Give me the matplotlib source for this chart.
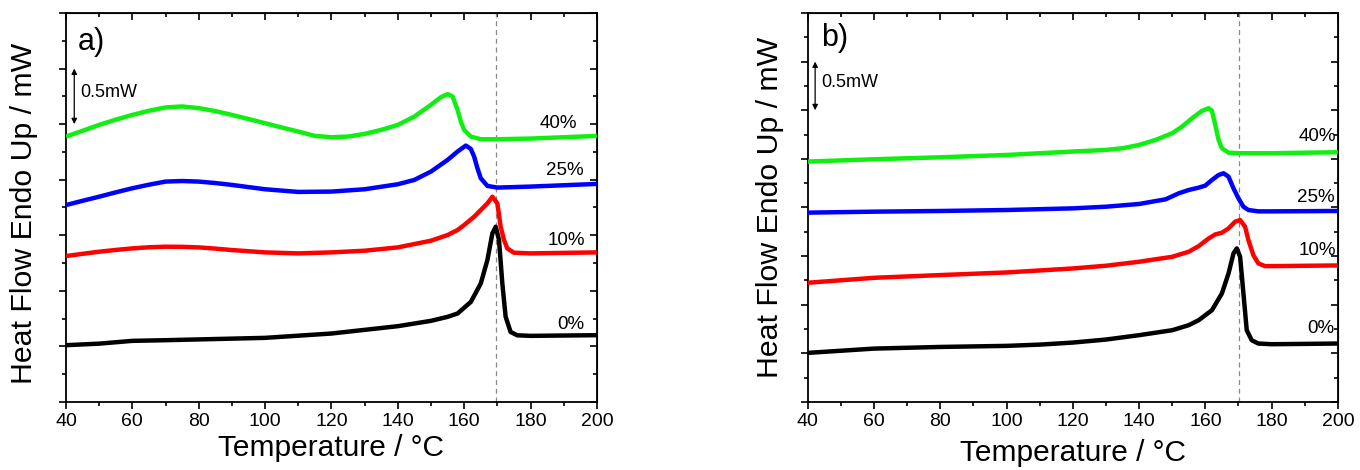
import matplotlib
matplotlib.use("Agg")
import matplotlib.pyplot as plt
from matplotlib.ticker import MultipleLocator, NullFormatter

plt.rcParams['font.family'] = ['Liberation Sans', 'DejaVu Sans']

# ---------------- Data: panel a ----------------
a_T0 = [40, 50, 60, 70, 100, 120, 140, 150, 155, 158, 162, 165, 167, 168.5, 169.5,
        170.5, 171.5, 172.5, 174, 176, 180, 200]
a_y0 = [0.511, 0.525, 0.55, 0.556, 0.577, 0.616, 0.682, 0.73, 0.766, 0.796, 0.90,
        1.066, 1.277, 1.517, 1.577, 1.457, 1.066, 0.766, 0.63, 0.60, 0.595, 0.601]

a_T10 = [40, 45, 50, 55, 60, 65, 70, 75, 80, 85, 90, 100, 110, 120, 130, 140, 150,
         155, 158, 160, 163, 165, 167, 168.5, 170, 171, 172, 173, 175, 180, 200]
a_y10 = [1.313, 1.333, 1.352, 1.368, 1.382, 1.392, 1.397, 1.396, 1.391, 1.380,
         1.367, 1.346, 1.337, 1.346, 1.361, 1.391, 1.451, 1.502, 1.547, 1.592,
         1.667, 1.727, 1.787, 1.847, 1.787, 1.577, 1.457, 1.382, 1.343, 1.337,
         1.346]

a_T25 = [40, 45, 50, 55, 60, 65, 70, 75, 80, 85, 90, 100, 110, 120, 130, 140, 145,
         150, 155, 158, 160.5, 162, 163, 164, 165, 167, 170, 180, 200]
a_y25 = [1.772, 1.810, 1.847, 1.886, 1.923, 1.955, 1.983, 1.988, 1.983, 1.970,
         1.953, 1.914, 1.890, 1.893, 1.914, 1.959, 1.998, 2.073, 2.178, 2.253,
         2.307, 2.277, 2.208, 2.103, 2.013, 1.944, 1.929, 1.938, 1.962]

a_T40 = [40, 45, 50, 55, 60, 65, 70, 75, 80, 85, 90, 95, 100, 105, 110, 115, 120,
         125, 130, 135, 140, 145, 150, 153, 155, 156.5, 158, 159, 160, 162, 165,
         170, 180, 200]
a_y40 = [2.388, 2.440, 2.493, 2.540, 2.583, 2.620, 2.650, 2.659, 2.644, 2.617,
         2.583, 2.546, 2.508, 2.470, 2.433, 2.394, 2.382, 2.388, 2.412, 2.448,
         2.493, 2.568, 2.674, 2.743, 2.770, 2.749, 2.629, 2.523, 2.448, 2.388,
         2.364, 2.364, 2.370, 2.394]

# ---------------- Data: panel b ----------------
b_T0 = [40, 60, 80, 100, 110, 120, 130, 140, 150, 155, 158, 162, 165, 167, 168.5,
        169.5, 170.5, 171.5, 172.5, 174, 176, 180, 200]
b_y0 = [0.505, 0.549, 0.566, 0.577, 0.590, 0.611, 0.642, 0.687, 0.738, 0.790,
        0.841, 0.944, 1.116, 1.322, 1.528, 1.579, 1.493, 1.116, 0.738, 0.635,
        0.601, 0.594, 0.601]

b_T10 = [40, 60, 80, 100, 120, 130, 140, 150, 155, 158, 161, 163, 165, 167, 169,
         170.5, 172, 173, 174.5, 176, 178, 180, 200]
b_y10 = [1.226, 1.277, 1.305, 1.332, 1.373, 1.401, 1.442, 1.493, 1.545, 1.603,
         1.682, 1.723, 1.740, 1.785, 1.854, 1.871, 1.802, 1.665, 1.510, 1.425,
         1.397, 1.397, 1.404]

b_T25 = [40, 60, 80, 100, 120, 130, 140, 148, 152, 155, 158, 160, 162, 164,
         165.5, 167, 168.5, 170, 171.5, 173, 176, 180, 200]
b_y25 = [1.947, 1.957, 1.964, 1.974, 1.991, 2.008, 2.036, 2.084, 2.146, 2.180,
         2.204, 2.225, 2.283, 2.334, 2.352, 2.317, 2.197, 2.094, 2.008, 1.974,
         1.960, 1.960, 1.964]

b_T40 = [40, 60, 80, 100, 120, 130, 135, 140, 145, 150, 153, 156, 159, 161, 162,
         163, 164, 165, 167, 170, 180, 200]
b_y40 = [2.472, 2.496, 2.516, 2.540, 2.575, 2.592, 2.609, 2.643, 2.695, 2.764,
         2.832, 2.918, 2.994, 3.021, 2.994, 2.849, 2.695, 2.609, 2.564, 2.558,
         2.558, 2.568]

series_labels = ['0%', '10%', '25%', '40%']
colors = ['#000000', '#ff0000', '#0000ff', '#11ee11']

a_label_pos = [(192.2, 0.70), (190.9, 1.451), (190.3, 2.079), (188.3, 2.508)]
b_label_pos = [(195.0, 0.755), (193.7, 1.555), (193.3, 2.104), (193.7, 2.729)]

a_dash_T = 169.5
b_dash_T = 170.2


def style_axes(ax, ymax):
    ax.set_xlim(40, 200)
    ax.set_ylim(0, ymax)
    ax.xaxis.set_major_locator(MultipleLocator(20))
    ax.xaxis.set_minor_locator(MultipleLocator(10))
    ax.yaxis.set_major_locator(MultipleLocator(0.5))
    ax.yaxis.set_minor_locator(MultipleLocator(0.25))
    ax.yaxis.set_major_formatter(NullFormatter())
    ax.tick_params(axis='both', which='major', direction='out', length=5,
                   width=1.2, labelsize=14, top=False, right=False, pad=3)
    ax.tick_params(axis='both', which='minor', direction='out', length=3,
                   width=1.2, top=False, right=False)
    for s in ax.spines.values():
        s.set_linewidth(1.3)
    # mirrored inward ticks on top/right
    top = ax.secondary_xaxis('top')
    top.xaxis.set_major_locator(MultipleLocator(20))
    top.xaxis.set_minor_locator(MultipleLocator(10))
    top.tick_params(which='major', direction='in', length=5, width=1.2,
                    labeltop=False)
    top.tick_params(which='minor', direction='in', length=3, width=1.2)
    right = ax.secondary_yaxis('right')
    right.yaxis.set_major_locator(MultipleLocator(0.5))
    right.yaxis.set_minor_locator(MultipleLocator(0.25))
    right.tick_params(which='major', direction='in', length=5, width=1.2,
                      labelright=False)
    right.tick_params(which='minor', direction='in', length=3, width=1.2)


fig = plt.figure(figsize=(13.6, 4.7), dpi=100)
axA = fig.add_axes([0.0485, 0.1447, 0.3904, 0.8277])
axB = fig.add_axes([0.594, 0.1447, 0.3897, 0.8277])

panels = [
    (axA, [(a_T0, a_y0), (a_T10, a_y10), (a_T25, a_y25), (a_T40, a_y40)],
     a_label_pos, a_dash_T, 3.5, 'a)', (0.022, 0.925), (42.5, 2.5, 3.0)),
    (axB, [(b_T0, b_y0), (b_T10, b_y10), (b_T25, b_y25), (b_T40, b_y40)],
     b_label_pos, b_dash_T, 4.0, 'b)', (0.025, 0.935), (42.2, 3.0, 3.5)),
]

for ax, data, lpos, dashT, ymax, tag, tagpos, arr in panels:
    style_axes(ax, ymax)
    ax.axvline(dashT, color='#888888', lw=0.9, ls=(0, (4, 3)), zorder=1)
    for (T, y), c, lab, (lx, ly) in zip(data, colors, series_labels, lpos):
        ax.plot(T, y, color=c, lw=3.2, solid_joinstyle='round',
                solid_capstyle='butt', zorder=3)
        ax.text(lx, ly, lab, fontsize=13.5, ha='center', va='center', zorder=4)
    ax.text(tagpos[0], tagpos[1], tag, transform=ax.transAxes, fontsize=22,
            ha='left', va='center')
    ax_x, y0, y1 = arr
    ax.annotate('', xy=(ax_x, y1), xytext=(ax_x, y0),
                arrowprops=dict(arrowstyle='<|-|>', color='black', lw=0.9,
                                mutation_scale=8, shrinkA=0, shrinkB=0))
    ax.text(ax_x + 1.7, (y0 + y1) / 2 + 0.03, '0.5mW', fontsize=13,
            ha='left', va='center')
    ax.set_xlabel('Temperature / °C', fontsize=21.5, labelpad=3)

axA.set_ylabel('Heat Flow Endo Up / mW', fontsize=21.8, labelpad=10)
axB.set_ylabel('Heat Flow Endo Up / mW', fontsize=21.8, labelpad=9)
axA.yaxis.set_label_coords(-0.052, 0.485)
axB.xaxis.set_label_coords(0.5, -0.095)

fig.savefig('out.png', dpi=100)
